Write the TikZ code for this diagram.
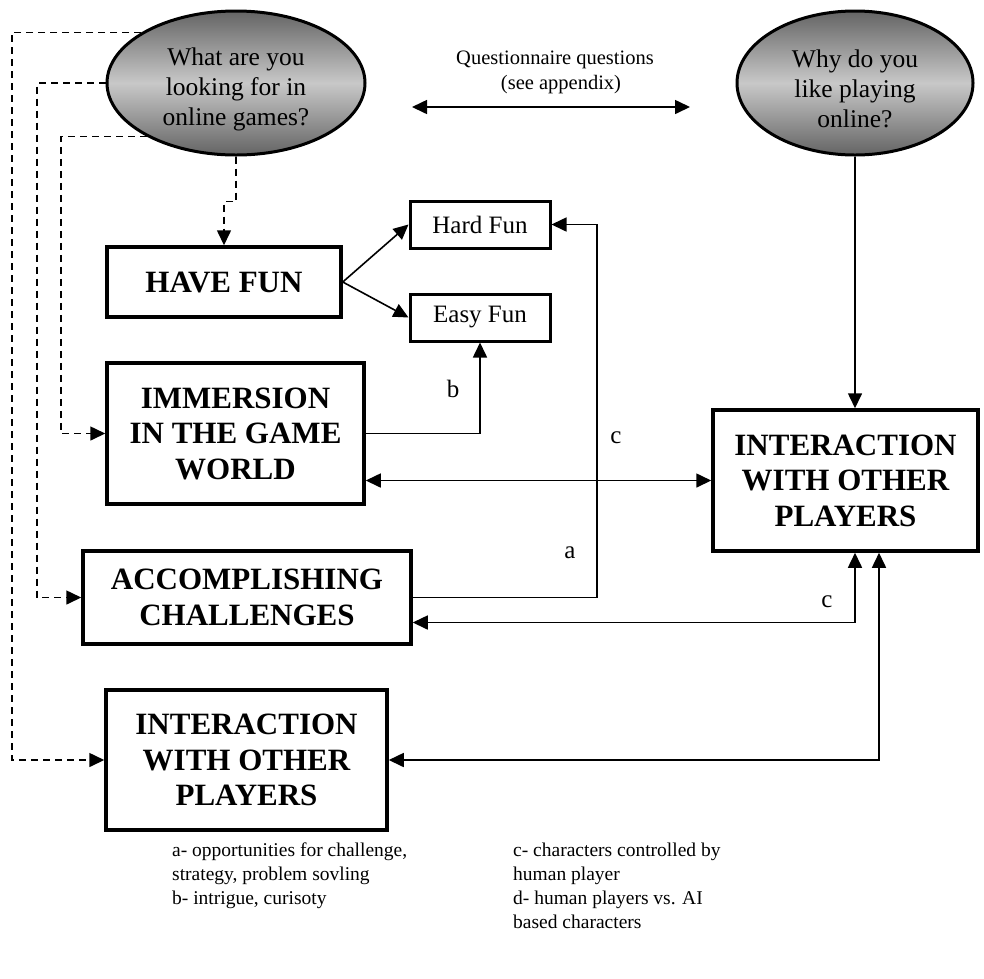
\documentclass[tikz,border=0pt]{standalone}
\usepackage{fontspec}
\setmainfont{Liberation Serif}
\usetikzlibrary{shapes.geometric,arrows.meta,calc}
\definecolor{shedge}{RGB}{100,100,100}
\definecolor{shmid}{RGB}{200,200,200}
\begin{document}
\begin{tikzpicture}[x=1pt,y=-1pt,
  bigbox/.style={draw, line width=3.5pt, inner sep=0pt, align=center, font=\fontsize{31}{35.5}\selectfont\bfseries},
  smallbox/.style={draw, line width=3pt, inner sep=0pt, align=center, font=\fontsize{25}{29}\selectfont, minimum width=140pt, minimum height=47pt},
  question/.style={ellipse, draw, line width=3pt, inner sep=0pt, align=center, top color=shedge, bottom color=shedge, middle color=shmid, font=\fontsize{25.5}{30}\selectfont, minimum height=144pt},
  conn/.style={line width=1.6pt},
  tip/.style={-{Triangle[length=15pt,width=14pt]}},
  dtip/.style={{Triangle[length=15pt,width=14pt]}-{Triangle[length=15pt,width=14pt]}},
  dline/.style={line width=1.6pt, dash pattern=on 7pt off 5pt},
  lbl/.style={font=\fontsize{25}{29}\selectfont, inner sep=0pt},
  legend/.style={font=\fontsize{19.5}{24}\selectfont, align=left, inner sep=0pt, anchor=north west}
]
\useasboundingbox (0,0) rectangle (984,978);

% questions
\node[question, minimum width=258pt] (q1) at (236,83) {\rule{0pt}{0pt}\\What are you\\looking for in\\online games?};
\node[question, minimum width=236pt] (q2) at (855,83) {\rule{0pt}{0pt}\\Why do you\\like playing\\online?};
\node[font=\fontsize{20.5}{25}\selectfont, align=center, inner sep=0pt] (qq) at (555,72) {Questionnaire questions\\\hspace*{12pt}(see appendix)};
\coordinate (qa) at (412,107);
\coordinate (qb) at (690,107);
\draw[conn,dtip] (qa) -- (qb);

% boxes
\node[bigbox, minimum width=234pt, minimum height=70pt] (hf) at (224,282) {HAVE FUN};
\node[smallbox] (hard) at (480,224.5) {Hard Fun};
\node[smallbox] (easy) at (480,317.5) {Easy Fun};
\node[bigbox, minimum width=257pt, minimum height=141pt] (imm) at (235.5,433.5) {IMMERSION\\IN THE GAME\\WORLD};
\node[bigbox, minimum width=328pt, minimum height=93pt] (acc) at (247,597.5) {ACCOMPLISHING\\CHALLENGES};
\node[bigbox, minimum width=281pt, minimum height=140pt] (ib) at (246.5,760) {INTERACTION\\WITH OTHER\\PLAYERS};
\node[bigbox, minimum width=265pt, minimum height=141pt] (int) at (845.5,480.5) {INTERACTION\\WITH OTHER\\PLAYERS};

% solid connectors
\coordinate (xA) at (597,0);
\coordinate (xB) at (879,0);
\draw[conn,tip] (q2.south) -- (q2.south |- int.north);
\draw[conn,tip] (hf.east) -- (hard.west);
\draw[conn,tip] (hf.east) -- (easy.west);
\draw[conn,tip] (imm.east) -| (easy.south);
\draw[conn,tip] (acc.east) -| (xA |- hard.east) -- (hard.east);
\draw[conn,dtip] (imm.east |- int.west) -- (int.west);
\draw[conn,dtip] ($(acc.east)+(0,25)$) -| (q2.south |- int.south);
\draw[conn,dtip] (ib.east) -| (xB |- int.south);

% dashed connectors
\coordinate (xa) at (12,0);
\coordinate (xb) at (37,0);
\coordinate (xc) at (61,0);
\draw[dline,tip] (q1.152) -| (xa |- ib.west) -- (ib.west);
\draw[dline,tip] (q1.west) -| (xb |- acc.west) -- (acc.west);
\draw[dline,tip] (q1.211) -| (xc |- imm.west) -- (imm.west);
\draw[dline,tip] (q1.south) -- ++(0,45) -| (hf.north);

% labels
\node[lbl] (lb) at (453,389) {b};
\node[lbl] (lc1) at (616,438) {c};
\node[lbl] (la) at (570,553) {a};
\node[lbl] (lc2) at (827,602) {c};

% legend
\node[legend] (lg1) at (172,843) {a- opportunities for challenge,\\strategy, problem sovling\\b- intrigue, curisoty};
\node[legend] (lg2) at (513,843) {c- characters controlled by\\human player\\d- human players vs. AI\\based characters};
\end{tikzpicture}
\end{document}
